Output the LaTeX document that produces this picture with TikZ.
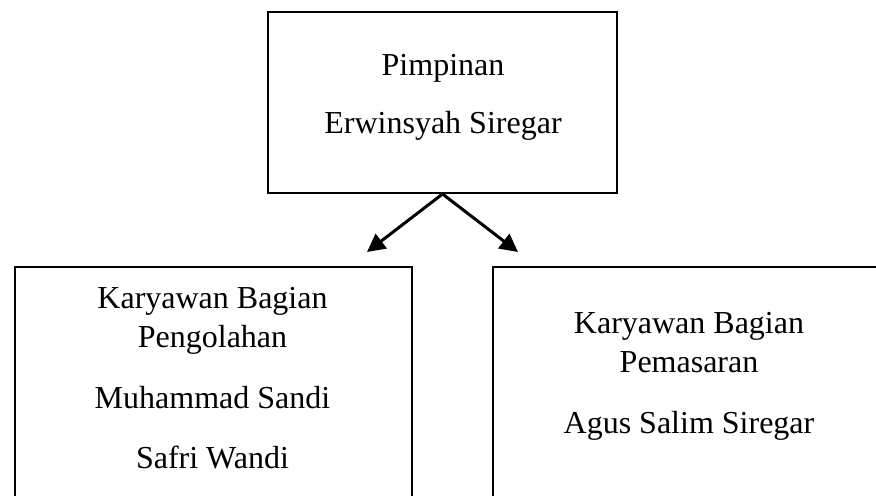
\documentclass[tikz,border=0pt]{standalone}
\usepackage{fontspec}
\setmainfont{Liberation Serif}
\usepackage{tikz}
\usetikzlibrary{arrows.meta}

\begin{document}
\begin{tikzpicture}[x = 0.5pt, y = -0.5pt, line width = 1pt,
                        kotak/.style = {rectangle, draw, inner sep = 0pt},
                        teks/.style = {anchor = base, inner sep = 0pt, font = \fontsize{16pt}{19pt}\selectfont},
                        panah/.style = {-{Triangle[length = 9pt, width = 9pt]}, line width = 1.5pt}]
      \useasboundingbox (0, 0) rectangle (876, 495);
      \clip (0, 0) rectangle (876, 495);
      % kotak
      \node [kotak, minimum width = 174.5pt, minimum height = 90.5pt] (pimpinan) at (442.5, 102.5){};
      \node [kotak, minimum width = 198.5pt, minimum height = 132pt, anchor = north west] (pengolahan) at (14, 266){};
      \node [kotak, minimum width = 197pt, minimum height = 132pt, anchor = north west] (pemasaran) at (492, 266){};
      % teks
      \node [teks] (p1) at (443, 75){Pimpinan};
      \node [teks] (p2) at (443, 133){Erwinsyah Siregar};
      \node [teks] (k1) at (212.5, 308){Karyawan Bagian};
      \node [teks] (k2) at (212.5, 347){Pengolahan};
      \node [teks] (k3) at (212.5, 408){Muhammad Sandi};
      \node [teks] (k4) at (212.5, 468){Safri Wandi};
      \node [teks] (m1) at (689, 333){Karyawan Bagian};
      \node [teks] (m2) at (689, 372){Pemasaran};
      \node [teks] (m3) at (689, 433){Agus Salim Siregar};
      % panah
      \coordinate (ujungkiri) at (367, 252);
      \coordinate (ujungkanan) at (518, 252);
      \draw [panah] (pimpinan.south) -- (ujungkiri);
      \draw [panah] (pimpinan.south) -- (ujungkanan);
    \end{tikzpicture}
\end{document}
